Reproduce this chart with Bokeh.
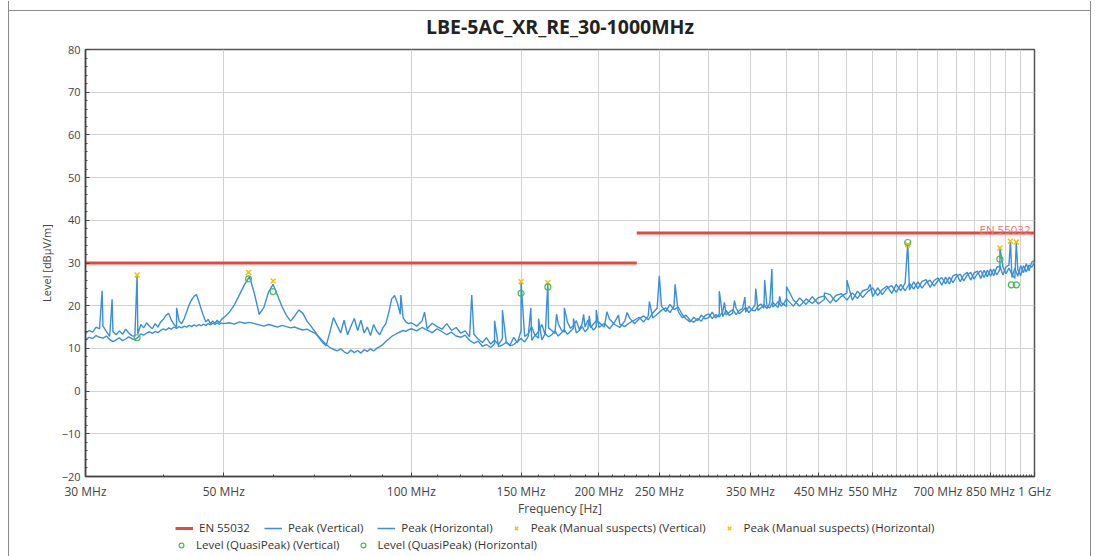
from bokeh.plotting import figure
from bokeh.layouts import column
from bokeh.models import FixedTicker, Legend, LegendItem, Label
from bokeh.embed import file_html
from bokeh.resources import INLINE

# ---------------- data ----------------
title_text = "LBE-5AC_XR_RE_30-1000MHz"

freq_mhz = [
    30.0, 30.4, 30.8, 31.2, 31.6, 32.0, 32.4, 32.8, 33.2, 33.6,
    34.0, 34.4, 34.8, 35.2, 35.6, 36.0, 36.4, 36.8, 37.2, 37.6,
    38.0, 38.4, 38.8, 39.2, 39.6, 40.0, 40.4, 40.8, 41.2, 41.6,
    42.0, 42.4, 42.8, 43.2, 43.6, 44.0, 44.4, 44.8, 45.2, 45.6,
    46.0, 46.4, 46.8, 47.2, 47.6, 48.0, 48.4, 48.8, 49.2, 49.6,
    50, 51, 52, 53, 54, 55, 56, 57, 58, 59,
    60, 61, 62, 63, 64, 65, 66, 67, 68, 69,
    70, 71, 72, 73, 74, 75, 76, 77, 78, 79,
    80, 81, 82, 83, 84, 85, 86, 87, 88, 89,
    90, 91, 92, 93, 94, 95, 96, 97, 98, 99,
    100, 102, 104, 106, 108, 110, 112, 114, 116, 118,
    120, 122, 124, 126, 128, 130, 132, 134, 136, 138,
    140, 142, 144, 146, 148, 150, 152, 154, 156, 158,
    160, 162, 164, 166, 168, 170, 172, 174, 176, 178,
    180, 182, 184, 186, 188, 190, 192, 194, 196, 198,
    200, 204, 208, 212, 216, 220, 224, 228, 232, 236,
    240, 244, 248, 252, 256, 260, 264, 268, 272, 276,
    280, 284, 288, 292, 296, 300, 304, 308, 312, 316,
    320, 324, 328, 332, 336, 340, 344, 348, 352, 356,
    360, 364, 368, 372, 376, 380, 384, 388, 392, 396,
    400, 410, 420, 430, 440, 450, 460, 470, 480, 490,
    500, 510, 520, 530, 540, 550, 560, 570, 580, 590,
    600, 610, 620, 630, 640, 650, 660, 670, 680, 690,
    700, 710, 720, 730, 740, 750, 760, 770, 780, 790,
    800, 810, 820, 830, 840, 850, 860, 870, 880, 890,
    900, 910, 920, 930, 940, 950, 960, 970, 980, 990,
    1000,
]

peak_vertical = [
    13.5, 14.2, 13.8, 15.0, 14.6, 15.2, 14.0, 12.8, 13.9, 13.2,
    14.1, 13.3, 14.5, 13.6, 13.0, 12.8, 13.4, 15.6, 14.8, 16.0,
    15.2, 14.6, 15.8, 15.0, 16.2, 16.8, 17.8, 18.2, 16.6, 15.6,
    15.0, 16.4, 15.8, 17.0, 18.6, 20.2, 21.4, 22.2, 22.6, 21.0,
    19.2, 17.6, 16.2, 16.8, 15.8, 16.4, 15.9, 16.6, 16.0, 16.8,
    17.2, 18.4, 20.2, 22.6, 25.0, 26.8, 22.8, 18.0, 19.6, 23.2,
    25.0, 22.4, 19.8, 17.8, 16.4, 17.6, 19.0, 18.2, 16.4, 15.2,
    14.0, 12.6, 11.4, 10.6, 13.8, 17.2, 15.4, 13.6, 16.6, 13.2,
    15.2, 17.0, 14.2, 16.6, 13.6, 15.0, 13.0, 15.6, 14.0, 13.2,
    14.8, 15.8, 18.4, 21.6, 22.4, 20.6, 18.0, 17.2, 16.2, 15.8,
    16.0, 15.2, 16.4, 14.6, 15.9, 15.1, 14.5, 15.8, 14.2, 14.9,
    13.6, 14.1, 12.7, 13.3, 12.2, 11.4, 12.5, 11.0, 11.9, 10.9,
    12.3, 11.5, 10.8, 12.6, 11.3, 14.2, 12.8, 13.4, 15.1, 12.9,
    14.0, 15.6, 13.1, 14.8, 14.2, 13.5, 15.9, 14.3, 13.8, 16.2,
    14.7, 15.3, 16.5, 14.4, 15.8, 15.0, 16.6, 14.9, 15.7, 16.4,
    16.1, 15.0, 16.8, 15.6, 14.9, 16.4, 17.1, 15.8, 16.9, 17.6,
    16.7, 18.3, 19.4, 19.9, 18.6, 20.3, 19.1, 19.7, 18.0, 16.9,
    16.2, 17.3, 16.5, 17.8, 16.9, 17.2, 18.5, 17.1, 18.0, 17.5,
    18.9, 17.7, 18.3, 19.4, 18.1, 18.8, 19.6, 18.4, 19.2, 20.1,
    18.9, 19.5, 20.3, 19.3, 20.6, 19.7, 20.2, 21.0, 19.9, 20.5,
    21.6, 19.9, 21.8, 20.3, 22.1, 20.4, 21.5, 22.6, 20.9, 22.2,
    23.0, 21.3, 23.4, 21.9, 23.3, 24.2, 22.4, 23.8, 24.6, 22.9,
    25.0, 23.5, 25.3, 23.7, 25.6, 24.0, 25.7, 26.1, 24.3, 25.9,
    26.5, 24.8, 26.7, 25.1, 27.0, 27.4, 25.6, 27.2, 27.8, 26.0,
    27.7, 28.1, 26.4, 28.3, 26.8, 28.6, 27.0, 29.0, 29.3, 27.2,
    29.1, 29.5, 26.6, 28.8, 26.9, 29.4, 27.7, 29.8, 28.2, 30.2,
    30.6,
]

peak_horizontal = [
    12.0, 12.6, 12.3, 13.0, 12.6, 12.4, 12.9, 12.1, 11.6, 12.0,
    12.5, 11.8, 12.2, 12.7, 12.3, 12.0, 12.6, 13.4, 13.1, 13.6,
    13.9, 13.5, 14.0, 13.7, 14.2, 14.6, 14.3, 14.8, 14.5, 15.0,
    14.7, 15.1, 14.8, 15.2, 15.0, 15.4, 15.1, 15.5, 15.2, 15.6,
    15.3, 15.7, 15.4, 15.8, 15.5, 15.9, 15.6, 16.0, 15.7, 15.9,
    15.8, 16.0, 15.7, 16.2, 15.9, 16.1, 15.8, 15.5, 15.2, 15.6,
    15.3, 15.0, 15.4, 15.1, 14.8, 15.0, 14.6, 14.3, 14.5, 14.0,
    13.6, 12.8, 11.8, 10.9, 10.2, 9.8, 9.4, 9.9, 9.2, 8.8,
    9.6, 9.0, 9.5, 8.9, 9.7, 9.3, 9.9, 9.4, 10.0, 10.4,
    10.9, 11.6, 12.2, 12.8, 13.2, 13.6, 13.9, 14.2, 14.0, 14.4,
    14.6, 14.1, 14.9, 14.3, 13.7, 14.6, 13.9, 13.2, 13.8, 12.9,
    12.6, 13.1, 11.9, 11.2, 11.7, 10.5, 10.9, 10.2, 11.1, 10.4,
    10.8, 11.4, 10.6, 10.9, 11.6, 12.3, 11.5, 12.8, 11.9, 13.1,
    12.4, 12.0, 13.5, 12.7, 13.2, 14.1, 12.9, 13.6, 14.4, 13.3,
    14.0, 14.7, 13.6, 14.2, 15.1, 13.9, 14.6, 15.3, 14.3, 15.0,
    14.9, 15.9, 14.6, 16.2, 15.7, 15.1, 16.0, 16.6, 17.3, 16.2,
    17.6, 17.1, 18.0, 18.9, 19.5, 18.4, 19.9, 18.7, 17.2, 17.8,
    16.6, 16.1, 17.0, 16.4, 17.7, 18.1, 17.0, 17.9, 17.4, 18.6,
    17.8, 18.5, 19.1, 17.9, 18.9, 19.3, 18.5, 19.8, 19.0, 18.8,
    19.9, 20.4, 19.4, 20.0, 19.5, 20.8, 20.1, 19.6, 20.7, 20.3,
    19.8, 21.4, 19.9, 21.6, 20.5, 21.9, 22.3, 20.6, 22.4, 22.8,
    21.3, 23.0, 21.7, 23.5, 23.9, 22.1, 24.2, 22.6, 24.1, 24.7,
    23.1, 25.0, 23.5, 25.2, 23.9, 25.6, 24.1, 25.4, 26.0, 24.6,
    25.9, 26.6, 25.1, 26.7, 25.4, 26.9, 27.4, 25.8, 27.2, 27.8,
    26.2, 27.6, 28.2, 26.6, 28.3, 26.9, 28.6, 27.2, 28.5, 29.1,
    27.5, 28.8, 27.3, 26.4, 28.5, 27.0, 29.4, 27.9, 29.5, 29.0,
    30.2,
]

# narrow emission spikes (MHz, dBuV/m)
spike_vert_freq = [31.9, 33.1, 36.3, 42.0, 96.2, 105, 125, 140, 150, 165.6,
                   171, 176, 189, 206, 222, 250, 312, 330, 357, 379,
                   460, 500, 626, 915]
spike_vert_level = [23.5, 21.5, 27.2, 19.5, 22.5, 18.5, 22.5, 19.0, 25.6, 25.4,
                    18.0, 19.5, 18.0, 18.6, 18.4, 27.0, 23.4, 21.2, 24.0, 28.6,
                    23.0, 26.0, 34.6, 35.1]
spike_horz_freq = [136, 155.5, 160, 182, 193, 198, 215, 241, 265, 318,
                   343, 369, 390, 400, 545, 880, 935]
spike_horz_level = [16.5, 19.5, 17.0, 17.0, 17.6, 19.0, 17.8, 21.0, 25.0, 20.8,
                    22.0, 26.0, 22.2, 24.5, 25.0, 33.4, 34.9]

# limit EN 55032
limit_start = [30, 230]
limit_end = [230, 1000]
limit_level = [30, 37]

# manual suspects (peak)
sus_vert_freq = [36.3, 54.8, 60.0, 150.0, 165.6, 626.0]
sus_vert_level = [27.2, 27.8, 25.8, 25.6, 25.4, 34.3]
sus_horz_freq = [880, 915, 935]
sus_horz_level = [33.5, 35.1, 34.9]

# quasi-peak levels
qp_vert_freq = [36.3, 54.8, 60.0, 150.0, 165.6, 626.0]
qp_vert_level = [12.5, 26.3, 23.3, 22.9, 24.4, 34.8]
qp_horz_freq = [880, 918, 935]
qp_horz_level = [30.9, 24.9, 24.9]

x_tick_values = [30, 50, 100, 150, 200, 250, 350, 450, 550, 700, 850, 1000]
x_tick_labels = ["30 MHz", "50 MHz", "100 MHz", "150 MHz", "200 MHz", "250 MHz",
                 "350 MHz", "450 MHz", "550 MHz", "700 MHz", "850 MHz", "1 GHz"]
x_grid_values = [50, 100, 150, 200, 250, 300, 350, 400, 450, 500, 550, 600,
                 650, 700, 750, 800, 850, 900, 950]
x_minor_values = [40, 60, 70, 80, 90, 110, 120, 130, 140, 160, 170, 180, 190,
                  210, 220, 230, 240, 260, 270, 280, 290, 300, 310, 320, 330, 340,
                  360, 370, 380, 390, 400, 410, 420, 430, 440, 460, 470, 480, 490,
                  500, 510, 520, 530, 540, 560, 570, 580, 590, 600, 610, 620, 630,
                  640, 650, 660, 670, 680, 690, 710, 720, 730, 740, 750, 760, 770,
                  780, 790, 800, 810, 820, 830, 840, 860, 870, 880, 890, 900, 910,
                  920, 930, 940, 950, 960, 970, 980, 990]
y_tick_values = [-20, -10, 0, 10, 20, 30, 40, 50, 60, 70, 80]
y_minor_values = [-18, -16, -14, -12, -8, -6, -4, -2, 2, 4, 6, 8, 12, 14, 16, 18,
                  22, 24, 26, 28, 32, 34, 36, 38, 42, 44, 46, 48, 52, 54, 56, 58,
                  62, 64, 66, 68, 72, 74, 76, 78]


def with_spikes(freqs, levels, sf, sl):
    pts = sorted(zip(list(freqs) + list(sf), list(levels) + list(sl)))
    return [a for a, _ in pts], [b for _, b in pts]


fv, lv = with_spikes(freq_mhz, peak_vertical, spike_vert_freq, spike_vert_level)
fh, lh = with_spikes(freq_mhz, peak_horizontal, spike_horz_freq, spike_horz_level)

# ---------------- styling ----------------
FONT = "Open Sans"
BLUE = "#3a8fd8"
RED = "#e8463e"
YELLOW = "#f2c400"
GREEN = "#4cbb55"

p = figure(width=1083, height=518, x_axis_type="log", x_range=(30, 1000),
           y_range=(-20, 80), output_backend="svg", toolbar_location=None,
           min_border_left=77, min_border_right=57, min_border_top=40,
           min_border_bottom=43)
p.border_fill_color = None

p.title.text = title_text
p.title.align = "center"
p.title.text_font = FONT
p.title.text_font_size = "19.5px"
p.title.text_font_style = "bold"
p.title.text_color = "#222222"
p.title.standoff = 19

p.outline_line_color = "#555555"
p.outline_line_width = 1.5
p.background_fill_color = "white"

p.xaxis.ticker = FixedTicker(ticks=x_tick_values, minor_ticks=x_minor_values)
p.xaxis.major_label_overrides = {v: t for v, t in zip(x_tick_values, x_tick_labels)}
p.yaxis.ticker = FixedTicker(ticks=y_tick_values, minor_ticks=y_minor_values)
p.xgrid.ticker = FixedTicker(ticks=x_grid_values)
p.grid.grid_line_color = "#d2d2d2"
p.grid.grid_line_width = 1

for ax in (p.xaxis[0], p.yaxis[0]):
    ax.axis_line_color = "#444444"
    ax.axis_line_width = 1.5
    ax.major_tick_in = 4
    ax.major_tick_out = 0
    ax.minor_tick_in = 2
    ax.minor_tick_out = 0
    ax.major_tick_line_color = "#444444"
    ax.minor_tick_line_color = "#444444"
    ax.major_label_text_font = FONT
    ax.major_label_text_color = "#444444"
    ax.axis_label_text_font = FONT
    ax.axis_label_text_font_size = "12px"
    ax.axis_label_text_font_style = "normal"
    ax.axis_label_text_color = "#444444"

p.xaxis.major_label_text_font_size = "12px"
p.yaxis.major_label_text_font_size = "11px"
p.yaxis.axis_label_text_font_size = "11px"
p.xaxis.axis_label = "Frequency [Hz]"
p.yaxis.axis_label = "Level [dBµV/m]"
p.xaxis.major_label_standoff = 6
p.xaxis.axis_label_standoff = -3
p.yaxis.major_label_standoff = 5
p.yaxis.axis_label_standoff = 5

r_v = p.line(fv, lv, line_color=BLUE, line_width=1.4)
r_h = p.line(fh, lh, line_color=BLUE, line_width=1.4)
r_lim = p.multi_line(xs=[[a, b] for a, b in zip(limit_start, limit_end)],
                     ys=[[l, l] for l in limit_level], line_color=RED, line_width=3)
r_sv = p.scatter(sus_vert_freq, sus_vert_level, marker="x", size=7,
                 line_color=YELLOW, line_width=1.5)
r_sh = p.scatter(sus_horz_freq, sus_horz_level, marker="x", size=7,
                 line_color=YELLOW, line_width=1.5)
r_qv = p.scatter(qp_vert_freq, qp_vert_level, marker="circle", size=6,
                 fill_color=None, line_color=GREEN, line_width=1.2)
r_qh = p.scatter(qp_horz_freq, qp_horz_level, marker="circle", size=6,
                 fill_color=None, line_color=GREEN, line_width=1.2)

p.add_layout(Label(x=limit_end[-1], y=limit_level[-1], text="EN 55032",
                   text_align="right", text_baseline="middle", x_offset=-4,
                   y_offset=4, text_font=FONT, text_font_size="11.5px",
                   text_color="#f07070"))

# ---------------- legend strip (separate small canvas) ----------------
# same series drawn again on a strip whose ranges hide them; only the legend shows
lf = figure(width=1083, height=37, output_backend="svg", toolbar_location=None,
            x_axis_location=None, y_axis_location=None, min_border=0,
            x_range=(0, 1), y_range=(0, 1))
lf.grid.visible = False
lf.outline_line_color = None
lf.border_fill_color = None
lf.background_fill_color = None

k_lim = lf.multi_line(xs=[[a, b] for a, b in zip(limit_start, limit_end)],
                      ys=[[l, l] for l in limit_level], line_color=RED, line_width=3)
k_v = lf.line(fv, lv, line_color=BLUE, line_width=1.5)
k_h = lf.line(fh, lh, line_color=BLUE, line_width=1.5)
k_sv = lf.scatter(sus_vert_freq, sus_vert_level, marker="x", size=7,
                  line_color=YELLOW, line_width=1.5)
k_sh = lf.scatter(sus_horz_freq, sus_horz_level, marker="x", size=7,
                  line_color=YELLOW, line_width=1.5)
k_qv = lf.scatter(qp_vert_freq, qp_vert_level, marker="circle", size=6,
                  fill_color=None, line_color=GREEN, line_width=1.2)
k_qh = lf.scatter(qp_horz_freq, qp_horz_level, marker="circle", size=6,
                  fill_color=None, line_color=GREEN, line_width=1.2)


def make_legend(items, loc):
    return Legend(items=items, orientation="horizontal", location=loc,
                  border_line_alpha=0, background_fill_alpha=0, padding=0,
                  margin=0, spacing=14, glyph_width=18, glyph_height=12,
                  label_height=12, label_standoff=6, label_text_font=FONT,
                  label_text_font_size="11.5px", label_text_color="#333333")


leg1 = make_legend([
    LegendItem(label="EN 55032", renderers=[k_lim]),
    LegendItem(label="Peak (Vertical)", renderers=[k_v]),
    LegendItem(label="Peak (Horizontal)", renderers=[k_h]),
    LegendItem(label="Peak (Manual suspects) (Vertical)", renderers=[k_sv]),
    LegendItem(label="Peak (Manual suspects) (Horizontal)", renderers=[k_sh]),
], (90, 21))
leg2 = make_legend([
    LegendItem(label="Level (QuasiPeak) (Vertical)", renderers=[k_qv]),
    LegendItem(label="Level (QuasiPeak) (Horizontal)", renderers=[k_qh]),
], (87, 4))
lf.add_layout(leg1)
lf.add_layout(leg2)

LINE = "linear-gradient(#8a8a8a, #8a8a8a)"
page = column(p, lf, spacing=0,
              styles={"margin-left": "8px", "margin-top": "1px",
                      "background": f"{LINE} 0 0 / 1px 100% no-repeat, "
                                    f"{LINE} 100% 0 / 1px 100% no-repeat, "
                                    f"{LINE} 0 9px / 100% 1px no-repeat"})

open("out.html", "w").write(file_html(page, INLINE))
